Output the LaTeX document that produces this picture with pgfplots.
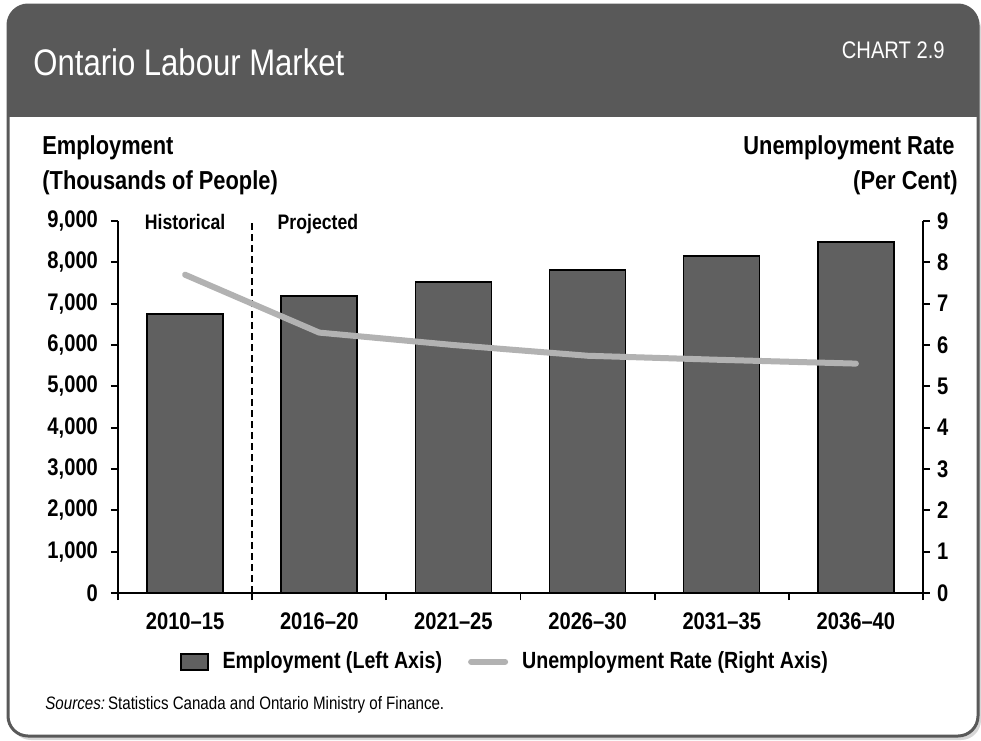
\documentclass[border=0pt]{standalone}
\usepackage{fontspec}
\setmainfont{Liberation Sans}[FakeStretch=0.84]
\usepackage{pgfplots}
\pgfplotsset{compat=1.18}
\definecolor{hdr}{RGB}{89,89,89}
\definecolor{barc}{RGB}{96,96,96}
\definecolor{linec}{RGB}{178,178,178}
\definecolor{shadowc}{RGB}{215,215,215}
\pgfplotsset{
  barlegend/.style={legend image code/.code={\draw[##1,/tikz/.cd] (0pt,-4pt) rectangle (13.5pt,4pt);}},
  linelegend/.style={legend image code/.code={\draw[##1] (1.5pt,0pt) -- (18.5pt,0pt);}},
}
\begin{document}
\begin{tikzpicture}[x=0.5pt,y=-0.5pt]
\path[use as bounding box] (0,0) rectangle (981,740);
\fill[shadowc, rounded corners=10pt] (11,9) rectangle (981,740);
\fill[white, rounded corners=10pt] (8,5) rectangle (978,736);
\begin{scope}
\clip[rounded corners=10pt] (8,5) rectangle (978,736);
\fill[hdr] (8,5) rectangle (978,117);
\end{scope}
\draw[hdr, line width=1.5pt, rounded corners=10pt] (8,5) rectangle (978,736);
\node[anchor=base west, white, inner sep=0, font=\fontsize{18.5}{20}\selectfont] at (33,75) {Ontario Labour Market};
\node[anchor=base east, white, inner sep=0, font=\fontsize{12}{14}\selectfont] at (945,58) {CHART 2.9};
\node[anchor=base west, inner sep=0, font=\bfseries\fontsize{13}{15}\selectfont] at (42,154) {Employment};
\node[anchor=base west, inner sep=0, font=\bfseries\fontsize{13}{15}\selectfont] at (42,189) {(Thousands of People)};
\node[anchor=base east, inner sep=0, font=\bfseries\fontsize{13}{15}\selectfont] at (955,154) {Unemployment Rate};
\node[anchor=base east, inner sep=0, font=\bfseries\fontsize{13}{15}\selectfont] at (958,189) {(Per Cent)};
\node[anchor=base west, inner sep=0, font=\fontsize{9}{11}\selectfont] at (45,709) {\textit{Sources:}\kern1.5pt Statistics Canada and Ontario Ministry of Finance.};

\begin{axis}[
  at={(59pt,-296.5pt)}, anchor=south west, scale only axis,
  width=402.5pt, height=186pt,
  xmin=-0.5, xmax=5.5, ymin=0, ymax=9000,
  axis x line*=bottom, axis y line*=left,
  axis line style={line width=0.9pt},
  clip=false,
  xtick={0,...,5},
  xticklabels={2010--15,2016--20,2021--25,2026--30,2031--35,2036--40},
  minor xtick={-0.5,0.5,1.5,2.5,3.5,4.5,5.5},
  ytick={0,1000,...,9000},
  tick align=outside,
  major tick length=3.5pt, minor tick length=3.5pt,
  major x tick style={draw=none},
  every tick/.style={black, line width=0.9pt},
  minor x tick style={black, line width=0.9pt},
  /pgf/number format/assume math mode=true,
  /pgf/number format/1000 sep={,},
  ticklabel style={font=\bfseries\fontsize{12}{14}\selectfont},
  yticklabel style={xshift=-3pt},
  xticklabel style={yshift=-3pt},
  legend style={at={(axis description cs:0.482,-0.185)}, anchor=center, draw=none, fill=none,
    legend columns=2, font=\bfseries\fontsize{11.7}{14}\selectfont,
    /tikz/every odd column/.append style={column sep=5pt},
    /tikz/every even column/.append style={column sep=11pt}},
]
\addplot[ybar, bar width=38pt, fill=barc, draw=black, line width=0.75pt, barlegend]
  coordinates {(0,6750) (1,7190) (2,7520) (3,7810) (4,8150) (5,8490)};
\addlegendentry{Employment (Left Axis)}
\addlegendimage{linec, line width=3pt, line cap=round, linelegend}
\addlegendentry{Unemployment Rate (Right Axis)}
\addplot[black, line width=0.9pt, dash pattern=on 3.5pt off 2pt, forget plot]
  coordinates {(0.5,0) (0.5,9000)};
\node[anchor=base, font=\bfseries\fontsize{10.5}{12}\selectfont] at (axis cs:0,8800) {Historical};
\node[anchor=base, font=\bfseries\fontsize{10.5}{12}\selectfont] at (axis cs:0.99,8800) {Projected};
\end{axis}

\begin{axis}[
  at={(59pt,-296.5pt)}, anchor=south west, scale only axis,
  width=402.5pt, height=186pt,
  xmin=-0.5, xmax=5.5, ymin=0, ymax=9,
  axis x line=none, axis y line*=right,
  axis line style={line width=0.9pt},
  clip=false,
  ytick={0,...,9},
  tick align=outside,
  major tick length=3.5pt,
  every tick/.style={black, line width=0.9pt},
  /pgf/number format/assume math mode=true,
  ticklabel style={font=\bfseries\fontsize{12}{14}\selectfont},
]
\addplot[linec, line width=3pt, line cap=round, line join=round, mark=none]
  coordinates {(0,7.7) (1,6.3) (2,6.0) (3,5.74) (4,5.64) (5,5.55)};
\end{axis}
\end{tikzpicture}
\end{document}
